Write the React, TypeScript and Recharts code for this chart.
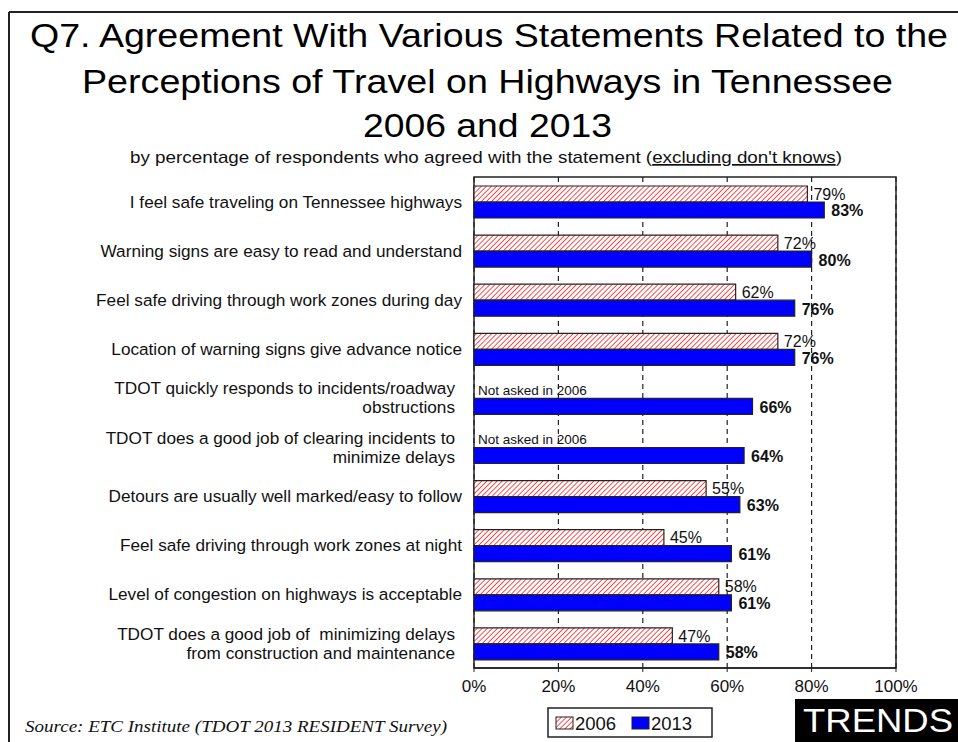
import { BarChart, Bar, XAxis, YAxis, CartesianGrid, LabelList, ReferenceArea } from "recharts";

const FONT = "'Liberation Sans', Arial, sans-serif";
const SERIF = "'Liberation Serif', 'Times New Roman', serif";

const statements = [
  "I feel safe traveling on Tennessee highways",
  "Warning signs are easy to read and understand",
  "Feel safe driving through work zones during day",
  "Location of warning signs give advance notice",
  "TDOT quickly responds to incidents/roadway\nobstructions",
  "TDOT does a good job of clearing incidents to\nminimize delays",
  "Detours are usually well marked/easy to follow",
  "Feel safe driving through work zones at night",
  "Level of congestion on highways is acceptable",
  "TDOT does a good job of  minimizing delays\nfrom construction and maintenance",
];
const values2006 = [79, 72, 62, 72, null, null, 55, 45, 58, 47];
const values2013 = [83, 80, 76, 76, 66, 64, 63, 61, 61, 58];
const xTicks = [0, 20, 40, 60, 80, 100];

const data = statements.map((label, i) => ({
  label,
  y2006: values2006[i],
  y2013: values2013[i],
}));

const CategoryTick = ({ x, y, payload }: any) => {
  const lines = String(payload.value).split("\n");
  const tx = x - (lines.length > 1 ? 11 : 4);
  const start = -((lines.length - 1) * 19) / 2;
  return (
    <text x={tx} y={y} textAnchor="end" fontSize={17.2} fill="#111" fontFamily={FONT} style={{ whiteSpace: "pre" }}>
      {lines.map((l, i) => (
        <tspan key={i} x={tx} dy={i === 0 ? start + 6 : 19}>
          {l}
        </tspan>
      ))}
    </text>
  );
};

const label2006 = (p: any) => {
  if (p.value == null || p.value === "") return null;
  return (
    <text x={p.x + p.width + 6} y={p.y + p.height / 2} dy="0.35em" fontSize={16} fill="#111" fontFamily={FONT}>
      {p.value}%
    </text>
  );
};

const label2013 = (p: any) => (
  <text x={p.x + p.width + 7} y={p.y + p.height / 2} dy="0.4em" fontSize={16} fontWeight="bold" fill="#111" fontFamily={FONT}>
    {p.value}%
  </text>
);

const noteLabel = (p: any) => {
  if (!p.value) return null;
  return (
    <text x={p.x + 4} y={p.y - p.height / 2} dy="0.36em" fontSize={13.5} fill="#111" fontFamily={FONT}>
      {p.value}
    </text>
  );
};

export default function App() {
  return (
    <div style={{ position: "absolute", left: 0, top: 0, width: 958, height: 742, background: "#fff", overflow: "hidden" }}>
      <svg width={958} height={742} style={{ position: "absolute", left: 0, top: 0 }}>
        <defs>
          <pattern id="hatchLegend" patternUnits="userSpaceOnUse" width={3.6} height={3.6} patternTransform="rotate(45)">
            <rect width={3.6} height={3.6} fill="#fff" />
            <line x1={0} y1={0} x2={0} y2={3.6} stroke="#ff2020" strokeWidth={1.6} />
          </pattern>
        </defs>
        <line x1={9} y1={12} x2={958} y2={12} stroke="#222" strokeWidth={2} />
        <line x1={9} y1={12} x2={9} y2={742} stroke="#222" strokeWidth={2} />
        <g fontFamily={FONT} fill="#000" textAnchor="start">
          <text x={30} y={47} fontSize={34} textLength={918} lengthAdjust="spacingAndGlyphs">
            Q7. Agreement With Various Statements Related to the
          </text>
          <text x={82} y={93} fontSize={34} textLength={811} lengthAdjust="spacingAndGlyphs">
            Perceptions of Travel on Highways in Tennessee
          </text>
          <text x={363} y={137} fontSize={34} textLength={249} lengthAdjust="spacingAndGlyphs">
            2006 and 2013
          </text>
          <text x={130} y={163} fontSize={17} fill="#111" textLength={712} lengthAdjust="spacingAndGlyphs">
            by percentage of respondents who agreed with the statement (
            <tspan style={{ textDecoration: "underline" }}>excluding don't knows</tspan>)
          </text>
        </g>
        <text x={25} y={732} fontFamily={SERIF} fontStyle="italic" fontSize={17} fill="#111" textLength={422} lengthAdjust="spacingAndGlyphs">
          Source:  ETC Institute (TDOT 2013 RESIDENT Survey)
        </text>
        <g>
          <rect x={548} y={708} width={164} height={29} fill="#fff" stroke="#222" strokeWidth={1.5} />
          <rect x={556} y={717} width={17} height={12} fill="url(#hatchLegend)" stroke="#222" strokeWidth={1} />
          <text x={575} y={730} fontFamily={FONT} fontSize={18.5} fill="#111">2006</text>
          <rect x={632} y={717} width={17} height={12} fill="#0000ff" stroke="#222" strokeWidth={1} />
          <text x={651} y={730} fontFamily={FONT} fontSize={18.5} fill="#111">2013</text>
        </g>
        <rect x={795} y={699} width={163} height={43} fill="#000" />
        <text x={803} y={732} fontFamily={FONT} fontSize={34} fill="#fff" textLength={150} lengthAdjust="spacingAndGlyphs">
          TRENDS
        </text>
      </svg>
      <div style={{ position: "absolute", left: 0, top: 0 }}>
        <BarChart
          width={958}
          height={742}
          data={data}
          layout="vertical"
          margin={{ top: 177, right: 62, bottom: 44, left: 0 }}
          barGap={0}
          barCategoryGap={9}
        >
          <defs>
            <pattern id="hatch2006" patternUnits="userSpaceOnUse" width={3.6} height={3.6} patternTransform="rotate(45)">
              <rect width={3.6} height={3.6} fill="#fff" />
              <line x1={0} y1={0} x2={0} y2={3.6} stroke="#ff2020" strokeWidth={1.6} />
            </pattern>
          </defs>
          <CartesianGrid horizontal={false} vertical stroke="#222" strokeDasharray="5 4" strokeWidth={1.2} />
          <XAxis
            type="number"
            domain={[0, 100]}
            ticks={xTicks}
            tickFormatter={(v) => `${v}%`}
            height={30}
            tickSize={4}
            tickMargin={8}
            axisLine={{ stroke: "#222", strokeWidth: 1.5 }}
            tickLine={{ stroke: "#222" }}
            tick={{ fontSize: 17, fill: "#111", fontFamily: FONT }}
          />
          <YAxis type="category" dataKey="label" width={474} axisLine={false} tickLine={false} tick={<CategoryTick />} interval={0} />
          <Bar dataKey="y2006" fill="url(#hatch2006)" stroke="#222" strokeWidth={1.2} isAnimationActive={false}>
            <LabelList dataKey="y2006" content={label2006} />
          </Bar>
          <Bar dataKey="y2013" fill="#0000ff" stroke="#222" strokeWidth={1.2} isAnimationActive={false}>
            <LabelList dataKey="y2013" content={label2013} />
            <LabelList dataKey={(d: any) => (d.y2006 == null ? "Not asked in 2006" : "")} content={noteLabel} />
          </Bar>
          <ReferenceArea x1={0} x2={100} fill="none" fillOpacity={0} stroke="#222" strokeWidth={1.5} ifOverflow="visible" />
        </BarChart>
      </div>
    </div>
  );
}
